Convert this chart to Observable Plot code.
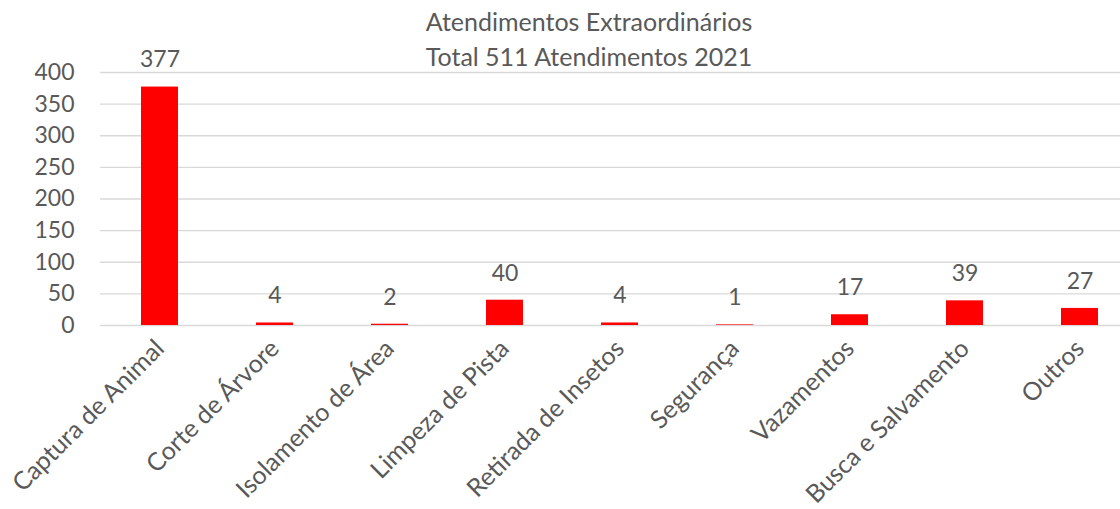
<!DOCTYPE html>
<html>
<head>
<meta charset="utf-8">
<script src="https://cdn.jsdelivr.net/npm/d3@7"></script>
<script src="https://cdn.jsdelivr.net/npm/@observablehq/plot@0.6"></script>
<style>
  html, body { margin: 0; padding: 0; background: #fff; }
  #wrap { position: relative; width: 1120px; height: 509px; font-family: Lato, "Open Sans", sans-serif; }
  #title { position: absolute; left: 0; top: 4px; width: 1178px; text-align: center; color: #595959; font-size: 25px; line-height: 35px; }
  #chart { position: absolute; left: 0; top: 0; }
</style>
</head>
<body>
<div id="wrap">
  <div id="chart"></div>
  <div id="title">Atendimentos Extraordinários<br>Total 511 Atendimentos 2021</div>
</div>
<script>
const categories = ["Captura de Animal", "Corte de Árvore", "Isolamento de Área", "Limpeza de Pista", "Retirada de Insetos", "Segurança", "Vazamentos", "Busca e Salvamento", "Outros"];
const values = [377, 4, 2, 40, 4, 1, 17, 39, 27];
const yTicks = [0, 50, 100, 150, 200, 250, 300, 350, 400];

const data = categories.map((c, i) => ({category: c, value: values[i]}));

const chart = Plot.plot({
  width: 1120,
  height: 509,
  marginLeft: 100,
  marginRight: 0,
  marginTop: 72,
  marginBottom: 184,
  style: {fontFamily: "Lato, 'Open Sans', sans-serif", fontSize: "23px", color: "#595959", background: "white", overflow: "visible"},
  x: {domain: categories, range: [100, 1138], paddingInner: 0.68, paddingOuter: 0.34, label: null},
  y: {domain: [0, 400], ticks: yTicks, label: null},
  marks: [
    Plot.ruleY(yTicks, {stroke: "#d9d9d9", strokeWidth: 1.3}),
    Plot.barY(data, {x: "category", y: "value", fill: "#ff0000"}),
    Plot.text(data, {x: "category", y: "value", text: d => String(d.value), dy: -27, fill: "#595959", fontSize: 23}),
    Plot.axisY({ticks: yTicks, tickSize: 0, tickPadding: 26, fontSize: 23, label: null}),
    Plot.axisX({tickSize: 0, tickRotate: -45, tickPadding: 19, fontSize: 25, label: null})
  ]
});
document.getElementById("chart").appendChild(chart);
</script>
</body>
</html>
